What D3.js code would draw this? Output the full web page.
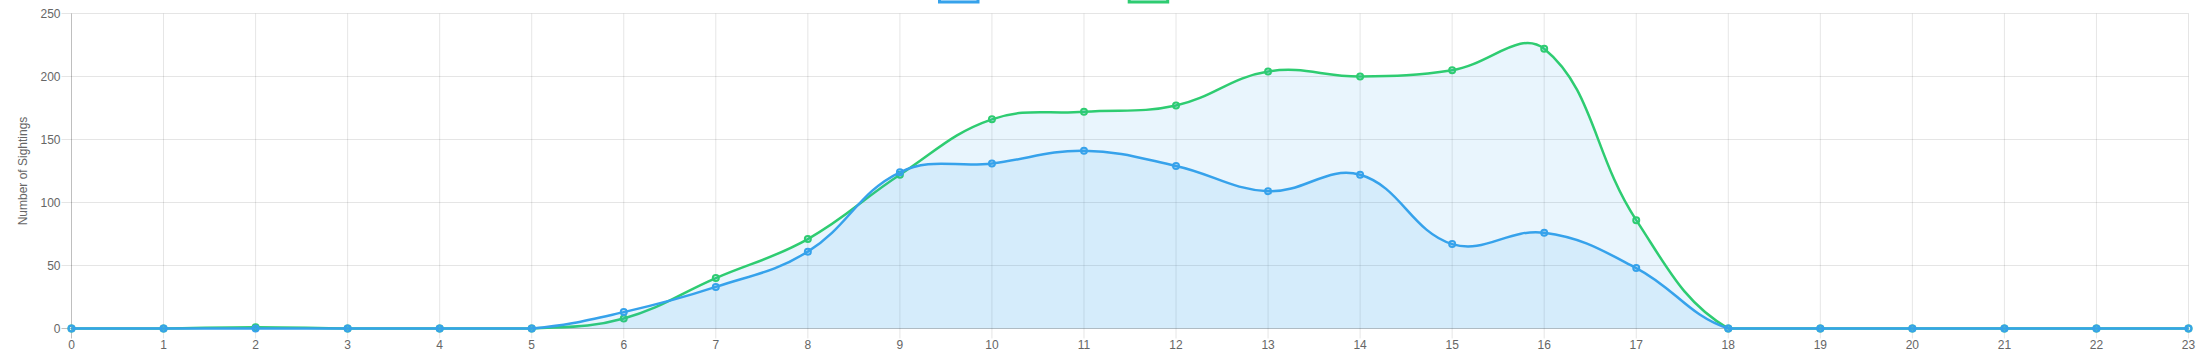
<!DOCTYPE html>
<html>
<head>
<meta charset="utf-8">
<script src="https://cdn.jsdelivr.net/npm/d3@7"></script>
<style>
  body { margin: 0; background: #fff; }
  svg { display: block; font-family: "Liberation Sans", Arial, sans-serif; }
</style>
</head>
<body>
<script>
const hours = d3.range(0, 24);
const seriesA = [0, 0, 0, 0, 0, 0, 13, 33, 61, 124, 131, 141, 129, 109, 122, 67, 76, 48, 0, 0, 0, 0, 0, 0];
const seriesB = [0, 0, 1, 0, 0, 0, 8, 40, 71, 122, 166, 172, 177, 204, 200, 205, 222, 86, 0, 0, 0, 0, 0, 0];
const seriesLabels = ["Sightings on Weekdays", "Sightings on Weekends"];
const yTicks = [0, 50, 100, 150, 200, 250];

const width = 2203;
const height = 363;
const area = {left: 71.5, right: 2188.5, top: 13.5, bottom: 328.5};

const x = d3.scaleLinear().domain([0, 23]).range([area.left, area.right]);
const y = d3.scaleLinear().domain([0, 250]).range([area.bottom, area.top]);

// spline like chart.js (tension 0.4, control points kept inside the chart area)
function chartSpline(bounds, tension) {
  function Spline(context) { this._context = context; }
  Spline.prototype = {
    areaStart: function() { this._line = 0; },
    areaEnd: function() { this._line = NaN; },
    lineStart: function() { this._pts = []; },
    point: function(px, py) { this._pts.push([+px, +py]); },
    lineEnd: function() {
      const p = this._pts, n = p.length, ctx = this._context;
      if (n) {
        const cap = (v, lo, hi) => Math.max(lo, Math.min(hi, v));
        const cp = p.map((cur, i) => {
          const prev = p[i - 1] || cur, next = p[i + 1] || cur;
          const d01 = Math.hypot(cur[0] - prev[0], cur[1] - prev[1]);
          const d12 = Math.hypot(next[0] - cur[0], next[1] - cur[1]);
          let s01 = d01 / (d01 + d12), s12 = d12 / (d01 + d12);
          if (isNaN(s01)) s01 = 0;
          if (isNaN(s12)) s12 = 0;
          const fa = tension * s01, fb = tension * s12;
          return {
            prev: [cap(cur[0] - fa * (next[0] - prev[0]), bounds.left, bounds.right),
                   cap(cur[1] - fa * (next[1] - prev[1]), bounds.top, bounds.bottom)],
            next: [cap(cur[0] + fb * (next[0] - prev[0]), bounds.left, bounds.right),
                   cap(cur[1] + fb * (next[1] - prev[1]), bounds.top, bounds.bottom)]
          };
        });
        if (this._line) ctx.lineTo(p[0][0], p[0][1]);
        else ctx.moveTo(p[0][0], p[0][1]);
        for (let i = 1; i < n; i++) {
          ctx.bezierCurveTo(cp[i - 1].next[0], cp[i - 1].next[1], cp[i].prev[0], cp[i].prev[1], p[i][0], p[i][1]);
        }
      }
      if (this._line) ctx.closePath();
      this._line = 1 - this._line;
    }
  };
  return function(context) { const s = new Spline(context); s._line = NaN; return s; };
}

const curve = chartSpline(area, 0.4);

const datasets = [
  {label: seriesLabels[0], values: seriesA, color: "#36a2eb", fill: "rgba(54,162,235,0.11)", box: 939.5},
  {label: seriesLabels[1], values: seriesB, color: "#2ecc71", fill: "rgba(54,162,235,0.11)", box: 1129.2}
];

const svg = d3.select("body").append("svg")
    .attr("width", width)
    .attr("height", height);

// grid
const grid = svg.append("g");
grid.selectAll("line.h")
  .data(yTicks)
  .enter().append("line")
    .attr("x1", area.left - 10).attr("x2", area.right)
    .attr("y1", d => y(d)).attr("y2", d => y(d))
    .attr("stroke", d => d === 0 ? "rgba(0,0,0,0.25)" : "rgba(0,0,0,0.1)")
    .attr("stroke-width", 1);
grid.selectAll("line.v")
  .data(hours)
  .enter().append("line")
    .attr("x1", d => x(d)).attr("x2", d => x(d))
    .attr("y1", area.top).attr("y2", area.bottom + 10)
    .attr("stroke", d => d === 0 ? "rgba(0,0,0,0.25)" : "rgba(0,0,0,0.1)")
    .attr("stroke-width", 1);

// tick labels
svg.append("g").selectAll("text")
  .data(yTicks)
  .enter().append("text")
    .attr("x", area.left - 11)
    .attr("y", d => y(d) + 4)
    .attr("text-anchor", "end")
    .attr("font-size", 12)
    .attr("fill", "#666")
    .text(d => d);

svg.append("g").selectAll("text")
  .data(hours)
  .enter().append("text")
    .attr("x", d => x(d))
    .attr("y", area.bottom + 20.5)
    .attr("text-anchor", "middle")
    .attr("font-size", 12)
    .attr("fill", "#666")
    .text(d => d);

svg.append("text")
    .attr("transform", "translate(24," + ((area.top + area.bottom) / 2) + ") rotate(-90)")
    .attr("text-anchor", "middle")
    .attr("dominant-baseline", "middle")
    .attr("font-size", 12)
    .attr("fill", "#666")
    .text("Number of Sightings");

const line = d3.line()
    .x((d, i) => x(hours[i]))
    .y(d => y(d))
    .curve(curve);

const areaGen = d3.area()
    .x((d, i) => x(hours[i]))
    .y0(y(0))
    .y1(d => y(d))
    .curve(curve);

// chart.js draws the last dataset first
datasets.slice().reverse().forEach(ds => {
  const g = svg.append("g");
  g.append("path")
      .attr("d", areaGen(ds.values))
      .attr("fill", ds.fill);
  g.append("path")
      .attr("d", line(ds.values))
      .attr("fill", "none")
      .attr("stroke", ds.color)
      .attr("stroke-width", 2.5);
  g.selectAll("circle")
    .data(ds.values)
    .enter().append("circle")
      .attr("cx", (d, i) => x(hours[i]))
      .attr("cy", d => y(d))
      .attr("r", 3)
      .attr("fill", ds.fill)
      .attr("stroke", ds.color)
      .attr("stroke-width", 2);
});

// legend (sits mostly above the top edge)
const legend = svg.append("g");
datasets.forEach(ds => {
  legend.append("rect")
      .attr("x", ds.box)
      .attr("y", -10)
      .attr("width", 38.5)
      .attr("height", 12)
      .attr("fill", ds.fill)
      .attr("stroke", ds.color)
      .attr("stroke-width", 3);
  legend.append("text")
      .attr("x", ds.box + 46)
      .attr("y", -4)
      .attr("font-size", 12)
      .attr("fill", "#666")
      .text(ds.label);
});
</script>
</body>
</html>
